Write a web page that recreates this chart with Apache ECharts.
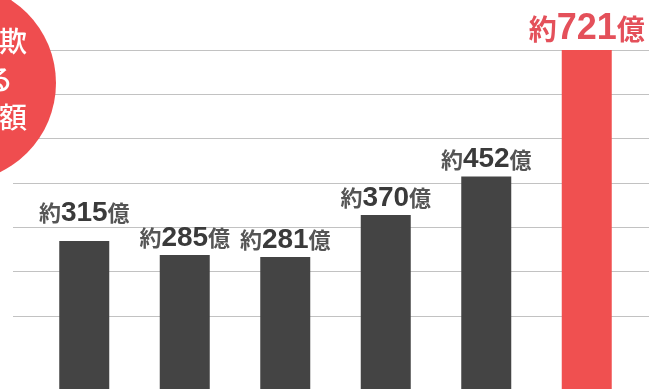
<!DOCTYPE html>
<html>
<head>
<meta charset="utf-8">
<script src="https://cdn.jsdelivr.net/npm/echarts@6/dist/echarts.min.js"></script>
<style>
  html, body { margin: 0; padding: 0; background: #fff; }
  #chart { width: 649px; height: 389px; }
</style>
</head>
<body>
<div id="chart"></div>
<script>
// 被害額（億円）
const categories = ["1", "2", "3", "4", "5", "6"];
const amounts = [315, 285, 281, 370, 452, 721];
const badgeLines = ["特殊詐欺", "による", "被害総額"];
const prefix = "約";
const suffix = "億";

const DARK = "#444444";
const RED = "#f05050";
const RED_TEXT = "#e4505a";
const lastIdx = amounts.length - 1;

const chart = echarts.init(document.getElementById("chart"));

const barData = amounts.map((v, i) => {
  const hot = i === lastIdx;
  return {
    value: v,
    itemStyle: { color: hot ? RED : DARK },
    label: {
      distance: i === 0 ? 14 : 3,
      formatter: hot
        ? "{ra|" + prefix + "}{rb|{c}}{ra|" + suffix + "}"
        : "{a|" + prefix + "}{b|{c}}{a|" + suffix + "}",
    },
  };
});

const option = {
  animation: false,
  grid: [
    // 目盛り線だけ
    { left: 13, right: 0, top: 50, height: 266 },
    // 棒
    { left: 34, right: 12, top: 50, bottom: 0 },
  ],
  xAxis: [
    { gridIndex: 0, type: "value", min: 0, max: 1, show: false },
    {
      gridIndex: 1,
      type: "category",
      data: categories,
      show: false,
    },
  ],
  yAxis: [
    {
      gridIndex: 0,
      type: "value",
      min: 0,
      max: 6,
      interval: 1,
      axisLine: { show: false },
      axisTick: { show: false },
      axisLabel: { show: false },
      splitLine: { show: true, lineStyle: { color: "#c2c2c2", width: 1 } },
    },
    {
      gridIndex: 1,
      type: "value",
      min: 0,
      max: 721,
      show: false,
      splitLine: { show: false },
    },
  ],
  series: [
    {
      type: "bar",
      xAxisIndex: 1,
      yAxisIndex: 1,
      barWidth: 50,
      data: barData,
      label: {
        show: true,
        position: "top",
        rich: {
          a: {
            fontFamily: "Noto Sans CJK JP",
            fontSize: 22,
            fontWeight: 700,
            color: "#555555",
          },
          b: {
            fontFamily: "Liberation Sans, Noto Sans CJK JP",
            fontSize: 28,
            fontWeight: "bold",
            color: "#3a3a3a",
          },
          ra: {
            fontFamily: "Noto Sans CJK JP",
            fontSize: 28,
            fontWeight: 700,
            color: RED_TEXT,
          },
          rb: {
            fontFamily: "Liberation Sans, Noto Sans CJK JP",
            fontSize: 36,
            fontWeight: "bold",
            color: RED_TEXT,
          },
        },
      },
    },
  ],
  graphic: [
    {
      type: "circle",
      z: 100,
      shape: { cx: -43, cy: 83, r: 99 },
      style: { fill: "#ef4d4f" },
    },
  ].concat(
    badgeLines.map((t, i) => ({
      type: "text",
      z: 101,
      x: -29,
      y: 41 + i * 38,
      style: {
        text: t,
        fill: "#fff",
        font: '500 28px "Noto Sans CJK JP"',
        textAlign: "center",
        textVerticalAlign: "middle",
      },
    }))
  ),
};

chart.setOption(option);
</script>
</body>
</html>
